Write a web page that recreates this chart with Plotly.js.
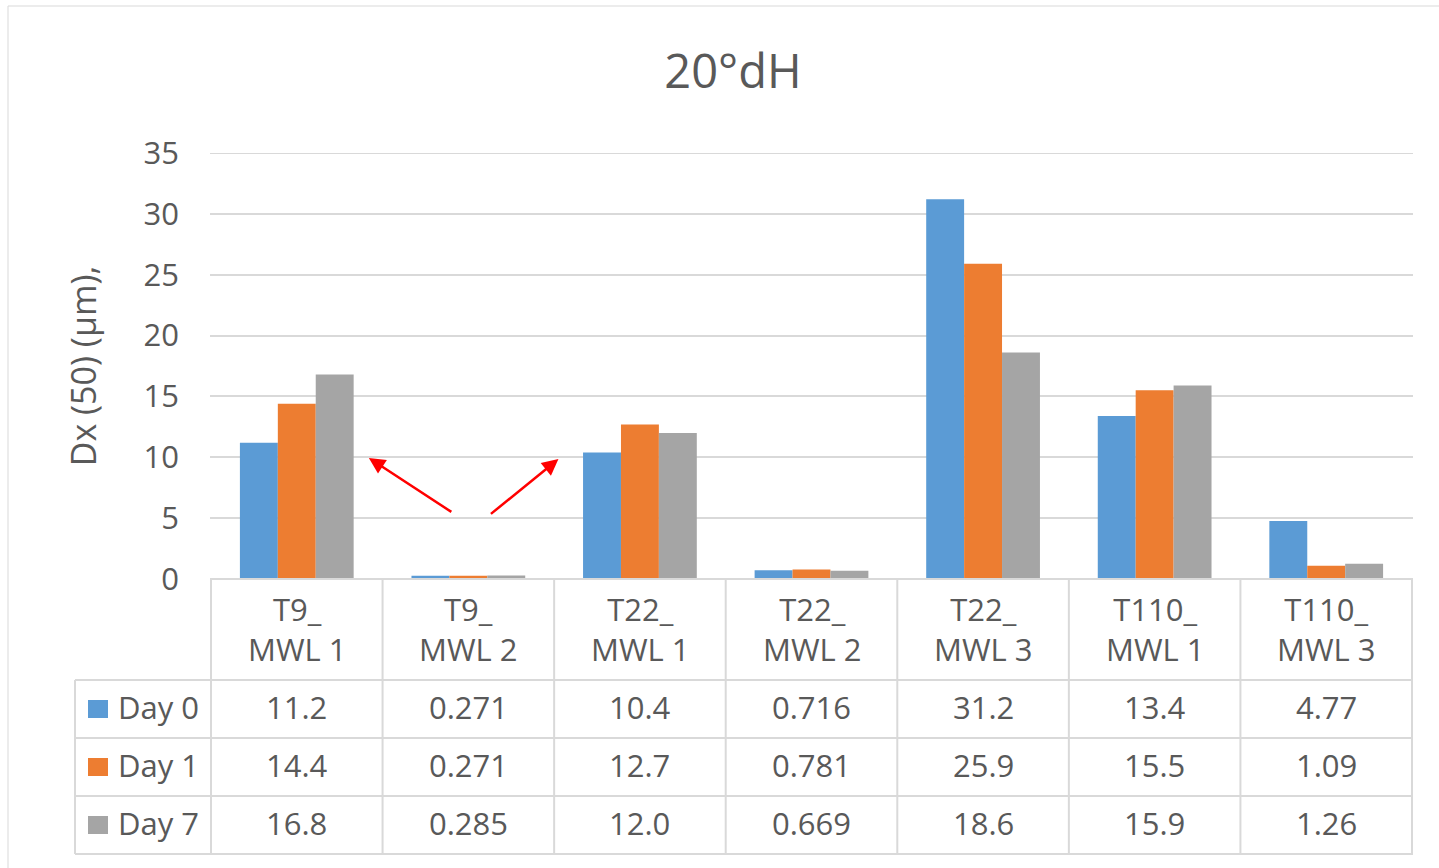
<!DOCTYPE html>
<html>
<head>
<meta charset="utf-8">
<script src="https://cdn.plot.ly/plotly-3.0.1.min.js"></script>
<style>html,body{margin:0;padding:0;background:#fff;}#chart{width:1439px;height:868px;}</style>
</head>
<body>
<div id="chart"></div>
<script>
const categories = ['T9_MWL 1', 'T9_MWL 2', 'T22_MWL 1', 'T22_MWL 2', 'T22_MWL 3', 'T110_MWL 1', 'T110_MWL 3'];
const headerLine1 = ['T9_', 'T9_', 'T22_', 'T22_', 'T22_', 'T110_', 'T110_'];
const headerLine2 = ['MWL 1', 'MWL 2', 'MWL 1', 'MWL 2', 'MWL 3', 'MWL 1', 'MWL 3'];
const seriesNames = ['Day 0', 'Day 1', 'Day 7'];
const day0 = [11.2, 0.271, 10.4, 0.716, 31.2, 13.4, 4.77];
const day1 = [14.4, 0.271, 12.7, 0.781, 25.9, 15.5, 1.09];
const day7 = [16.8, 0.285, 12.0, 0.669, 18.6, 15.9, 1.26];
const yTicks = [0, 5, 10, 15, 20, 25, 30, 35];

const colors = ['#5B9BD5', '#ED7D31', '#A5A5A5'];
const seriesValues = [day0, day1, day7];
const txt = '#595959';
const grid = '#D9D9D9';
const FONT = 'Open Sans, Noto Sans, sans-serif';

// pixel helpers (plot area: x 210..1413, y 153..579)
const PL = 210, PR = 1413, PT = 153, PB = 579;
const px = v => (v - PL) / (PR - PL);
const py = v => (PB - v) / (PB - PT);

const traces = seriesValues.map((vals, i) => ({
  type: 'bar', x: categories, y: vals, name: seriesNames[i],
  marker: {color: colors[i]}, hoverinfo: 'skip'
}));

const shapes = [];
const annotations = [];
const lineStyle = {color: grid, width: 2};

// outer chart border
shapes.push({type: 'rect', xref: 'paper', yref: 'paper', x0: px(8), x1: px(1460), y0: py(880), y1: py(6), line: {color: grid, width: 1}, layer: 'below'});

// top gridline at the axis maximum
shapes.push({type: 'line', xref: 'paper', yref: 'y', x0: 0, x1: 1, y0: yTicks[yTicks.length - 1], y1: yTicks[yTicks.length - 1], line: lineStyle, layer: 'below'});

// table top line (axis line)
shapes.push({type: 'line', xref: 'paper', yref: 'paper', x0: px(PL), x1: px(PR), y0: py(PB), y1: py(PB), line: lineStyle});
// horizontal row lines
[680, 738, 796, 854].forEach(y => {
  shapes.push({type: 'line', xref: 'paper', yref: 'paper', x0: px(75), x1: px(PR), y0: py(y), y1: py(y), line: lineStyle});
});
// vertical lines at category boundaries
for (let i = 0; i <= categories.length; i++) {
  shapes.push({type: 'line', xref: 'x', yref: 'paper', x0: i - 0.5, x1: i - 0.5, y0: py(PB), y1: py(854), line: lineStyle});
}
// left border of legend column
shapes.push({type: 'line', xref: 'paper', yref: 'paper', x0: px(75), x1: px(75), y0: py(680), y1: py(854), line: lineStyle});

// header text
categories.forEach((c, i) => {
  annotations.push({xref: 'x', yref: 'paper', x: i, y: py(629), text: headerLine1[i] + '<br>' + headerLine2[i],
    showarrow: false, font: {family: FONT, size: 31, color: txt}, xanchor: 'center', yanchor: 'middle'});
});

// rows
const rowCenters = [707, 765, 823];
seriesValues.forEach((vals, r) => {
  const yc = rowCenters[r];
  shapes.push({type: 'rect', xref: 'paper', yref: 'paper', x0: px(88), x1: px(108), y0: py(yc + 11), y1: py(yc - 7),
    fillcolor: colors[r], line: {width: 0}});
  annotations.push({xref: 'paper', yref: 'paper', x: px(116), y: py(yc), text: seriesNames[r], showarrow: false,
    font: {family: FONT, size: 31, color: txt}, xanchor: 'left', yanchor: 'middle'});
  vals.forEach((v, i) => {
    annotations.push({xref: 'x', yref: 'paper', x: i, y: py(yc), text: v.toPrecision(3), showarrow: false,
      font: {family: FONT, size: 31, color: txt}, xanchor: 'center', yanchor: 'middle'});
  });
});

// red arrows
annotations.push({xref: 'x', yref: 'y', x: 0.42, y: 9.95, ax: 84, ay: 55, text: '', showarrow: true,
  arrowhead: 2, arrowsize: 1.3, arrowwidth: 2.5, arrowcolor: '#FF0000'});
annotations.push({xref: 'x', yref: 'y', x: 1.525, y: 9.85, ax: -69, ay: 56, text: '', showarrow: true,
  arrowhead: 2, arrowsize: 1.3, arrowwidth: 2.5, arrowcolor: '#FF0000'});

const layout = {
  width: 1439, height: 868,
  margin: {l: PL, r: 1439 - PR, t: PT, b: 868 - PB, pad: 0},
  paper_bgcolor: '#fff', plot_bgcolor: '#fff',
  showlegend: false,
  barmode: 'group', bargap: 0.337, bargroupgap: 0,
  title: {text: '20°dH', font: {family: FONT, size: 47, color: txt}, x: px(733), xref: 'paper', xanchor: 'center', y: 1 - 72 / 868, yanchor: 'middle'},
  xaxis: {type: 'category', showticklabels: false, showgrid: false, zeroline: false, showline: false, ticks: '', fixedrange: true},
  yaxis: {range: [0, 35], tickvals: yTicks, ticktext: yTicks.map(String), showgrid: true, gridcolor: grid, gridwidth: 2,
    zeroline: false, showline: false, ticks: '', ticklabelstandoff: 30,
    tickfont: {family: FONT, size: 31, color: txt},
    title: {text: 'Dx (50) (µm),', font: {family: FONT, size: 34, color: txt}, standoff: 36},
    automargin: false, fixedrange: true},
  shapes: shapes, annotations: annotations,
  font: {family: FONT, color: txt}
};

Plotly.newPlot('chart', traces, layout, {displayModeBar: false, staticPlot: true});
</script>
</body>
</html>
